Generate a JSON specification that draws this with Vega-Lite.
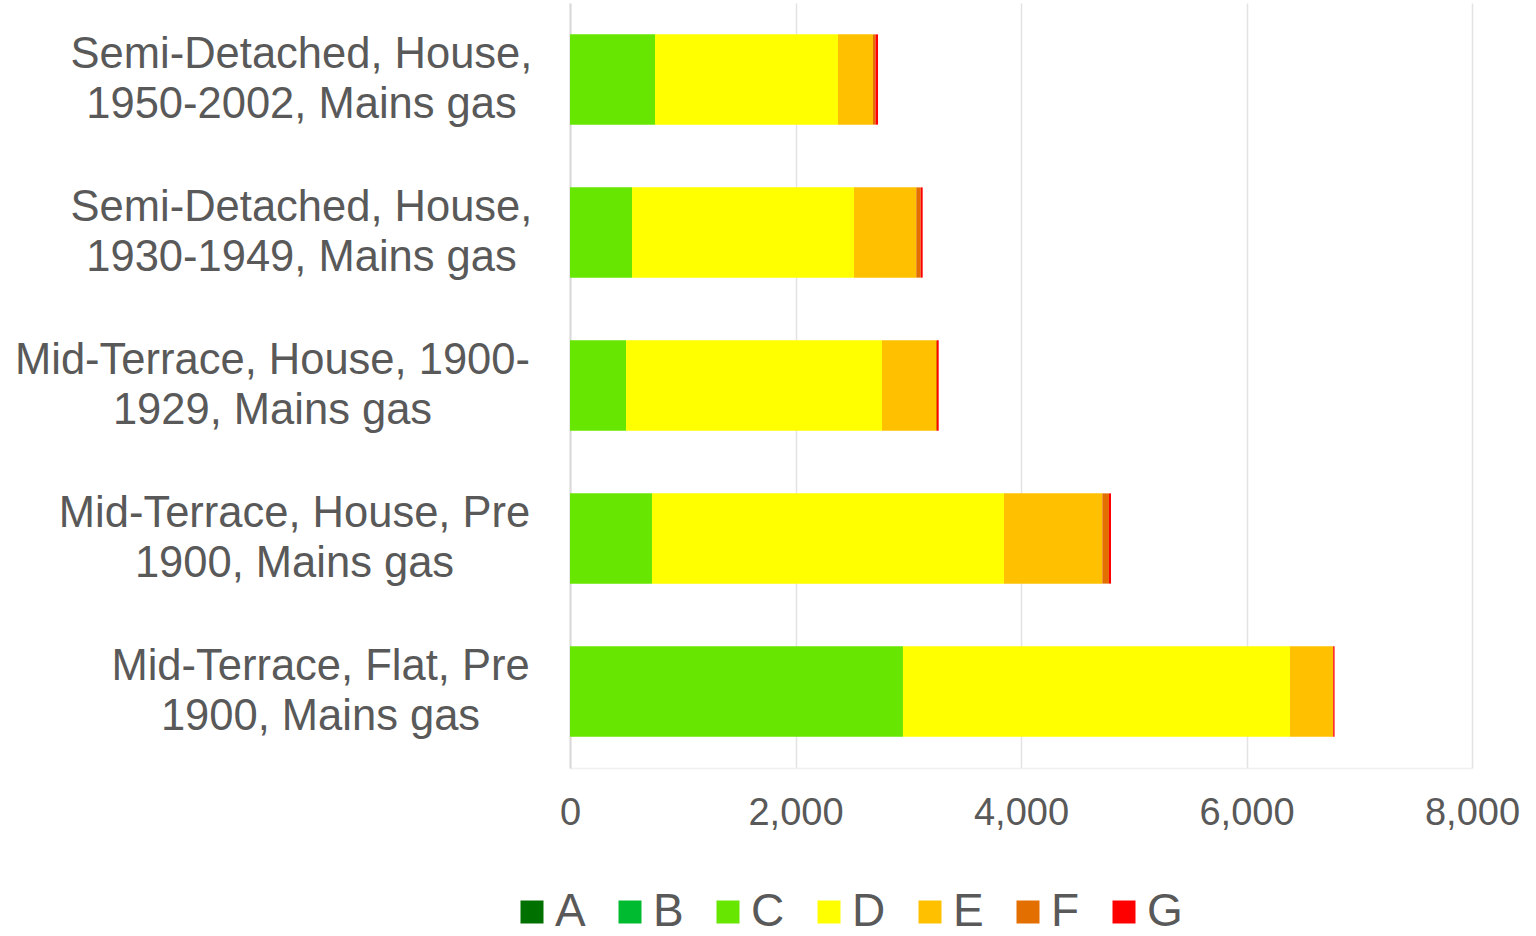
{
  "$schema": "https://vega.github.io/schema/vega-lite/v6.json",
  "autosize": "none",
  "width": 902,
  "height": 765,
  "padding": {"left": 570, "top": 3, "right": 64, "bottom": 168},
  "background": "white",
  "config": {
    "view": {"stroke": null},
    "font": "Liberation Sans"
  },
  "data": {
    "values": [
      {"type": "Semi-Detached, House,\n1950-2002, Mains gas", "rating": "C", "count": 754},
      {"type": "Semi-Detached, House,\n1950-2002, Mains gas", "rating": "D", "count": 1623},
      {"type": "Semi-Detached, House,\n1950-2002, Mains gas", "rating": "E", "count": 310},
      {"type": "Semi-Detached, House,\n1950-2002, Mains gas", "rating": "F", "count": 22},
      {"type": "Semi-Detached, House,\n1950-2002, Mains gas", "rating": "G", "count": 23},
      {"type": "Semi-Detached, House,\n1930-1949, Mains gas", "rating": "C", "count": 550},
      {"type": "Semi-Detached, House,\n1930-1949, Mains gas", "rating": "D", "count": 1969},
      {"type": "Semi-Detached, House,\n1930-1949, Mains gas", "rating": "E", "count": 552},
      {"type": "Semi-Detached, House,\n1930-1949, Mains gas", "rating": "F", "count": 39},
      {"type": "Semi-Detached, House,\n1930-1949, Mains gas", "rating": "G", "count": 18},
      {"type": "Mid-Terrace, House, 1900-\n1929, Mains gas", "rating": "C", "count": 497},
      {"type": "Mid-Terrace, House, 1900-\n1929, Mains gas", "rating": "D", "count": 2270},
      {"type": "Mid-Terrace, House, 1900-\n1929, Mains gas", "rating": "E", "count": 479},
      {"type": "Mid-Terrace, House, 1900-\n1929, Mains gas", "rating": "F", "count": 9},
      {"type": "Mid-Terrace, House, 1900-\n1929, Mains gas", "rating": "G", "count": 15},
      {"type": "Mid-Terrace, House, Pre\n1900, Mains gas", "rating": "C", "count": 727},
      {"type": "Mid-Terrace, House, Pre\n1900, Mains gas", "rating": "D", "count": 3122},
      {"type": "Mid-Terrace, House, Pre\n1900, Mains gas", "rating": "E", "count": 872},
      {"type": "Mid-Terrace, House, Pre\n1900, Mains gas", "rating": "F", "count": 59},
      {"type": "Mid-Terrace, House, Pre\n1900, Mains gas", "rating": "G", "count": 18},
      {"type": "Mid-Terrace, Flat, Pre\n1900, Mains gas", "rating": "C", "count": 2953},
      {"type": "Mid-Terrace, Flat, Pre\n1900, Mains gas", "rating": "D", "count": 3433},
      {"type": "Mid-Terrace, Flat, Pre\n1900, Mains gas", "rating": "E", "count": 381},
      {"type": "Mid-Terrace, Flat, Pre\n1900, Mains gas", "rating": "F", "count": 2},
      {"type": "Mid-Terrace, Flat, Pre\n1900, Mains gas", "rating": "G", "count": 12}
    ]
  },
  "mark": {"type": "bar", "strokeWidth": 0},
  "encoding": {
    "y": {
      "field": "type",
      "type": "nominal",
      "sort": null,
      "scale": {"paddingInner": 0.41, "paddingOuter": 0.205},
      "axis": {
        "title": null,
        "ticks": false,
        "domain": true,
        "domainColor": "#d9d9d9",
        "domainWidth": 2,
        "grid": false,
        "labelExpr": "split(datum.label, '\\n')",
        "labelFontSize": 43.5,
        "labelLineHeight": 50,
        "labelColor": "#595959",
        "labelAlign": "center",
        "labelBaseline": "middle",
        "labelOffset": -25,
        "labelLimit": 0,
        "labelPadding": {
          "condition": [
            {"test": "indexof(datum.value, '1950-2002') >= 0", "value": 269},
            {"test": "indexof(datum.value, '1930-1949') >= 0", "value": 269},
            {"test": "indexof(datum.value, '1900-') >= 0", "value": 298},
            {"test": "indexof(datum.value, 'House, Pre') >= 0", "value": 276}
          ],
          "value": 250
        }
      }
    },
    "x": {
      "field": "count",
      "type": "quantitative",
      "stack": "zero",
      "scale": {"domain": [0, 8000], "nice": false},
      "axis": {
        "title": null,
        "values": [0, 2000, 4000, 6000, 8000],
        "format": ",.0f",
        "ticks": false,
        "domain": true,
        "domainColor": "#f0f0f0",
        "domainWidth": 1.5,
        "grid": true,
        "gridColor": "#e3e3e3",
        "gridWidth": 1.5,
        "labelFontSize": 38,
        "labelColor": "#595959",
        "labelPadding": 26,
        "labelFlush": false
      }
    },
    "color": {
      "field": "rating",
      "type": "nominal",
      "scale": {
        "domain": ["A", "B", "C", "D", "E", "F", "G"],
        "range": ["#007000", "#00BB30", "#66E600", "#FFFF00", "#FFC000", "#E26F00", "#FF0000"]
      },
      "legend": {
        "title": null,
        "orient": "none",
        "direction": "horizontal",
        "legendX": -61,
        "legendY": 886,
        "symbolType": "square",
        "symbolSize": 529,
        "symbolStrokeWidth": 0,
        "symbolOpacity": 1,
        "labelFontSize": 46,
        "labelColor": "#595959",
        "labelOffset": 0,
        "columnPadding": 21,
        "padding": 0
      }
    },
    "order": {"field": "rating", "type": "nominal"}
  }
}
